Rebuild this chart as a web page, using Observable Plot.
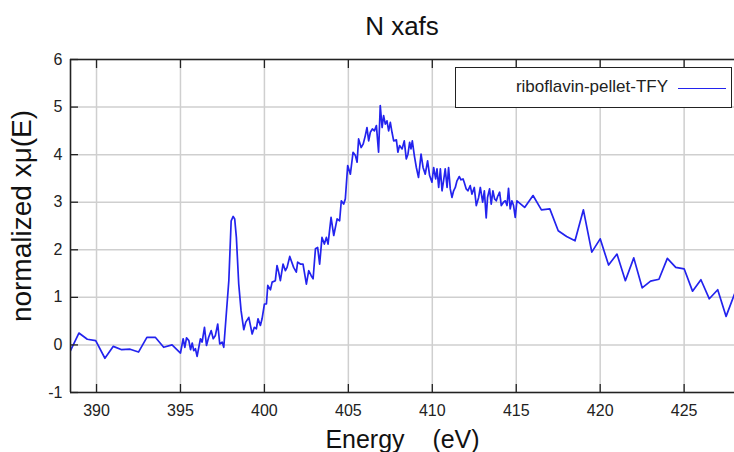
<!DOCTYPE html>
<html><head><meta charset="utf-8">
<script src="https://cdn.jsdelivr.net/npm/d3@7"></script>
<script src="https://cdn.jsdelivr.net/npm/@observablehq/plot@0.6"></script>
<style>
body{margin:0;background:#fff;}
#wrap{position:relative;width:734px;height:452px;overflow:hidden;font-family:"Liberation Sans",Arial,sans-serif;background:#fff;}
#title{position:absolute;left:70px;width:664px;top:12px;text-align:center;font-size:26px;line-height:28px;color:#111;}
#legend{position:absolute;left:455px;top:67px;width:275px;height:39px;border:1.5px solid #222;background:#fff;}
#legend span{position:absolute;right:63px;top:9px;font-size:17px;line-height:20px;color:#222;}
#legend i{position:absolute;left:222px;width:48px;top:20px;border-top:1.5px solid #2323ee;}
#chart{position:absolute;left:0;top:0;}
</style>
</head><body>
<div id="wrap"><div id="chart"></div><div id="title"></div><div id="legend"><span></span><i></i></div></div>
<script>
const titleText = "N xafs";
const xLabel = "Energy\u00a0\u00a0\u00a0\u00a0(eV)";
const yLabel = "normalized xμ(E)";
const seriesName = "riboflavin-pellet-TFY";
const xTicks = [390, 395, 400, 405, 410, 415, 420, 425];
const yTicks = [-1, 0, 1, 2, 3, 4, 5, 6];
const energy = [
388.45,388.95,389.45,389.95,390.5,391.0,391.5,392.0,392.5,393.0,393.5,394.0,394.5,395.0,
395.16,395.26,395.36,395.5,395.6,395.7,395.79,395.89,395.99,396.19,396.29,396.43,396.55,396.68,396.83,396.95,
397.08,397.22,397.34,397.48,397.58,397.88,398.02,398.14,398.23,398.33,398.47,398.61,398.77,398.89,399.07,
399.27,399.40,399.52,399.62,399.76,399.86,400.00,400.12,400.20,400.36,400.46,400.65,400.75,400.85,400.95,
401.11,401.25,401.35,401.51,401.74,401.90,401.98,402.14,402.30,402.38,402.50,402.64,402.78,402.90,403.04,
403.17,403.29,403.43,403.57,403.69,403.79,403.97,404.13,404.33,404.48,404.58,404.72,404.82,404.96,405.12,
405.28,405.42,405.52,405.61,405.76,405.88,406.01,406.11,406.21,406.31,406.43,406.55,406.67,406.80,406.90,
407.01,407.10,407.20,407.30,407.40,407.50,407.60,407.70,407.86,407.95,408.05,408.20,408.33,408.45,408.55,
408.65,408.73,408.81,408.93,409.05,409.18,409.33,409.45,409.58,409.72,409.84,409.98,410.08,410.20,410.28,
410.38,410.48,410.58,410.67,410.77,410.88,410.97,411.07,411.17,411.27,411.37,411.47,411.61,411.71,411.83,
411.90,412.02,412.12,412.26,412.36,412.50,412.62,412.76,412.86,413.00,413.10,413.21,413.29,413.41,413.51,
413.61,413.71,413.81,413.89,414.01,414.11,414.24,414.35,414.45,414.54,414.64,414.74,414.84,414.94,415.04,
415.5,416.0,416.5,417.0,417.5,418.0,418.5,419.0,419.5,420.0,420.5,421.0,421.5,422.0,422.5,423.0,423.5,
424.0,424.5,425.0,425.5,426.0,426.5,427.0,427.5,428.0];
const mu = [
-0.12,0.25,0.12,0.09,-0.28,-0.03,-0.10,-0.09,-0.15,0.16,0.16,-0.05,0.0,-0.17,
0.13,-0.05,0.15,0.09,-0.10,0.04,-0.12,-0.08,-0.24,0.13,0.06,0.37,-0.01,0.16,0.30,0.13,
0.20,0.44,0.02,0.06,-0.05,1.35,2.61,2.70,2.65,2.26,1.28,0.72,0.32,0.48,0.58,
0.23,0.37,0.34,0.55,0.41,0.55,0.86,0.86,1.25,1.16,1.32,1.35,1.67,1.53,1.35,
1.70,1.56,1.63,1.86,1.63,1.53,1.74,1.70,1.70,1.53,1.28,1.56,1.46,1.39,2.02,
2.05,1.70,2.26,2.12,2.26,2.12,2.68,2.30,2.65,2.61,3.03,2.96,3.07,3.77,3.59,
4.05,3.98,3.84,4.33,4.15,4.22,4.40,4.57,4.29,4.47,4.54,4.50,4.61,4.05,5.03,
4.57,4.82,4.64,4.71,4.50,4.68,4.47,4.29,4.31,4.05,4.19,4.12,4.29,3.91,4.01,
4.26,4.12,4.29,3.98,3.73,3.52,4.01,3.73,3.59,3.87,3.56,3.42,3.73,3.49,3.70,
3.31,3.70,3.24,3.45,3.70,3.31,3.73,3.28,3.10,3.24,3.31,3.45,3.54,3.47,3.49,
3.42,3.28,3.24,3.35,3.17,3.31,2.93,3.10,3.31,3.00,3.24,2.67,3.10,3.28,2.96,
3.24,3.07,3.03,3.12,3.21,2.93,3.00,3.03,2.93,3.29,2.86,3.03,2.93,2.68,3.03,
2.89,3.14,2.84,2.86,2.40,2.28,2.19,2.84,1.95,2.23,1.68,1.91,1.35,1.83,1.20,1.34,1.38,
1.82,1.63,1.60,1.13,1.37,0.97,1.16,0.60,1.07];

const data = energy.map((e, i) => ({E: e, mu: mu[i]}));
const xDomain = [388.45, 428];
const yDomain = [-1, 6];
const gridColor = "#cfcfcf";
const frameColor = "#222";
const lineColor = "#2323ee";

document.getElementById("title").textContent = titleText;
document.querySelector("#legend span").textContent = seriesName;

const chart = Plot.plot({
  width: 734, height: 452,
  marginLeft: 70, marginRight: 0, marginTop: 59, marginBottom: 60,
  x: {domain: xDomain},
  y: {domain: yDomain},
  style: {fontFamily: "Liberation Sans, Arial, sans-serif", fontSize: "16px", color: "#222", background: "white"},
  marks: [
    Plot.gridX(xTicks, {stroke: gridColor, strokeOpacity: 1, strokeWidth: 1.5}),
    Plot.gridY(yTicks, {stroke: gridColor, strokeOpacity: 1, strokeWidth: 1.5}),
    Plot.line(data, {x: "E", y: "mu", stroke: lineColor, strokeWidth: 1.7, clip: true}),
    Plot.axisX(xTicks, {anchor: "bottom", tickSize: -8, tickPadding: 20, label: null, stroke: frameColor, strokeWidth: 1.3, fontSize: 16, tickFormat: d => String(d)}),
    Plot.axisX(xTicks, {anchor: "top", tickSize: -8, tickPadding: 0, label: null, tickFormat: () => "", stroke: frameColor, strokeWidth: 1.3}),
    Plot.axisY(yTicks, {anchor: "left", tickSize: -8, tickPadding: 16, label: null, stroke: frameColor, strokeWidth: 1.3, fontSize: 16, tickFormat: d => String(d)}),
    Plot.ruleX([xDomain[0]], {stroke: frameColor, strokeWidth: 1.6}),
    Plot.ruleY([yDomain[0], yDomain[1]], {stroke: frameColor, strokeWidth: 1.6}),
    Plot.text([xLabel], {frameAnchor: "bottom", dy: 55, fontSize: 25, fill: "#111"}),
    Plot.text([yLabel], {frameAnchor: "left", textAnchor: "middle", dx: -48, dy: -10, rotate: -90, fontSize: 28, fill: "#111"})
  ]
});
document.getElementById("chart").appendChild(chart);
</script>
</body></html>
